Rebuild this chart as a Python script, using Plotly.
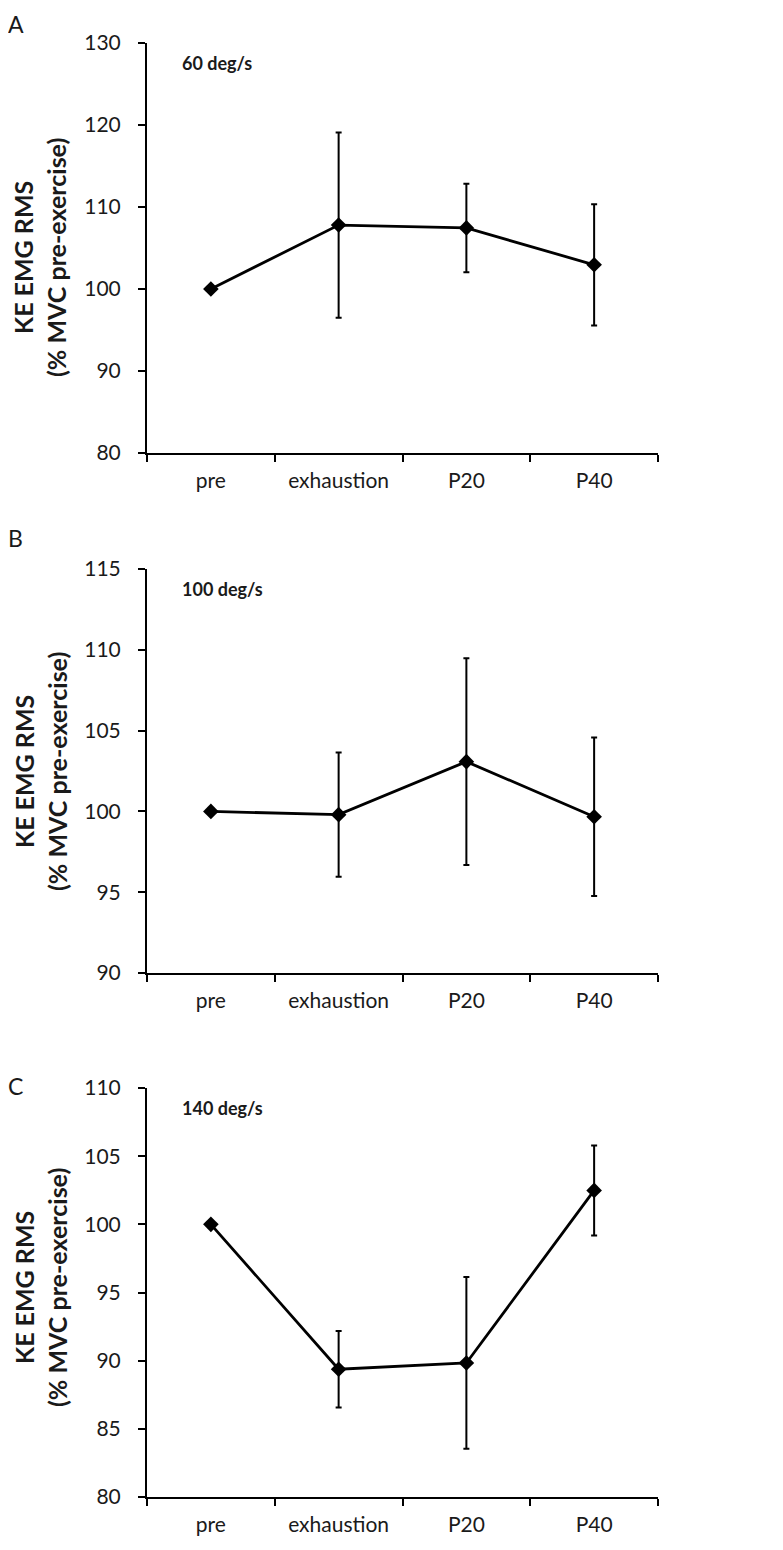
import plotly.graph_objects as go

W, H = 783, 1550
OFF = 8  # page body margin offset

categories = ["pre", "exhaustion", "P20", "P40"]

# Panel A: 60 deg/s
a_mean = [100.0, 107.8, 107.45, 102.95]
a_err = [0.0, 11.3, 5.4, 7.4]
# Panel B: 100 deg/s
b_mean = [100.0, 99.8, 103.08, 99.67]
b_err = [0.0, 3.85, 6.4, 4.9]
# Panel C: 140 deg/s
c_mean = [100.0, 89.37, 89.83, 102.49]
c_err = [0.0, 2.8, 6.3, 3.3]

panel_letters = ["A", "B", "C"]
speed_labels = ["60 deg/s", "100 deg/s", "140 deg/s"]
y_ranges = [(80, 130), (90, 115), (80, 110)]
y_dticks = [10, 5, 5]
y_title = "KE EMG RMS<br>(% MVC pre-exercise)"

FONT = "Lato"

def py(px):
    return 1 - (px - OFF) / H

def pxx(px):
    return (px - OFF) / W

# pixel layout of plot areas (top, bottom) in page coordinates
areas = [(43, 453), (569, 973), (1088, 1497)]
x_left, x_right = 147, 658
title_centers = [258, 772, 1288]
# (x centre, y top of text box) in page coordinates
letter_pos = [(16, 9), (15, 523), (15, 1071)]

fig = go.Figure()
data = [(a_mean, a_err), (b_mean, b_err), (c_mean, c_err)]

annotations = []
for i, (m, e) in enumerate(data):
    sfx = "" if i == 0 else str(i + 1)
    fig.add_trace(go.Scatter(
        x=categories, y=m,
        xaxis="x" + sfx, yaxis="y" + sfx,
        mode="lines+markers",
        line=dict(color="black", width=2.8),
        marker=dict(symbol="diamond", size=12, color="black"),
        error_y=dict(type="data", array=e, visible=True,
                     color="black", thickness=2, width=3),
        showlegend=False, hoverinfo="skip",
    ))
    top, bot = areas[i]
    xa = dict(
        domain=[pxx(x_left), pxx(x_right)],
        type="category", categoryorder="array", categoryarray=categories,
        range=[-0.5, 3.5], tickson="boundaries",
        showline=True, linecolor="black", linewidth=2,
        ticks="outside", ticklen=7, tickwidth=2, tickcolor="black",
        showgrid=False, zeroline=False, automargin=False,
        tickfont=dict(family=FONT, size=21, color="#1a1a1a"),
        ticklabelstandoff=8,
        anchor="y" + sfx, fixedrange=True,
    )
    ya = dict(
        domain=[py(bot), py(top)],
        range=list(y_ranges[i]), dtick=y_dticks[i], tick0=y_ranges[i][0],
        showline=True, linecolor="black", linewidth=2,
        ticks="outside", ticklen=7, tickwidth=2, tickcolor="black",
        showgrid=False, zeroline=False, automargin=False,
        tickfont=dict(family=FONT, size=21, color="#1a1a1a"),
        ticklabelstandoff=13,
        anchor="x" + sfx, fixedrange=True,
    )
    fig.update_layout({"xaxis" + sfx: xa, "yaxis" + sfx: ya})

    annotations.append(dict(
        text=speed_labels[i], xref="paper", yref="paper",
        x=pxx(180), y=py(top + 20), xanchor="left", yanchor="middle",
        showarrow=False,
        font=dict(family=FONT, size=18, color="#1a1a1a", weight="bold"),
    ))
    annotations.append(dict(
        text=y_title, xref="paper", yref="paper",
        x=pxx(40), y=py(title_centers[i]), xanchor="center", yanchor="middle",
        textangle=-90, showarrow=False,
        font=dict(family=FONT, size=25, color="#1a1a1a", weight="bold"),
    ))
    lx, ly = letter_pos[i]
    annotations.append(dict(
        text=panel_letters[i], xref="paper", yref="paper",
        x=pxx(lx), y=py(ly), xanchor="center", yanchor="top",
        showarrow=False, borderpad=0,
        font=dict(family=FONT, size=23, color="#1a1a1a"),
    ))

fig.update_layout(
    width=W, height=H,
    margin=dict(l=0, r=0, t=0, b=0),
    paper_bgcolor="white", plot_bgcolor="white",
    annotations=annotations,
    font=dict(family=FONT),
)

fig.write_html("out.html")
